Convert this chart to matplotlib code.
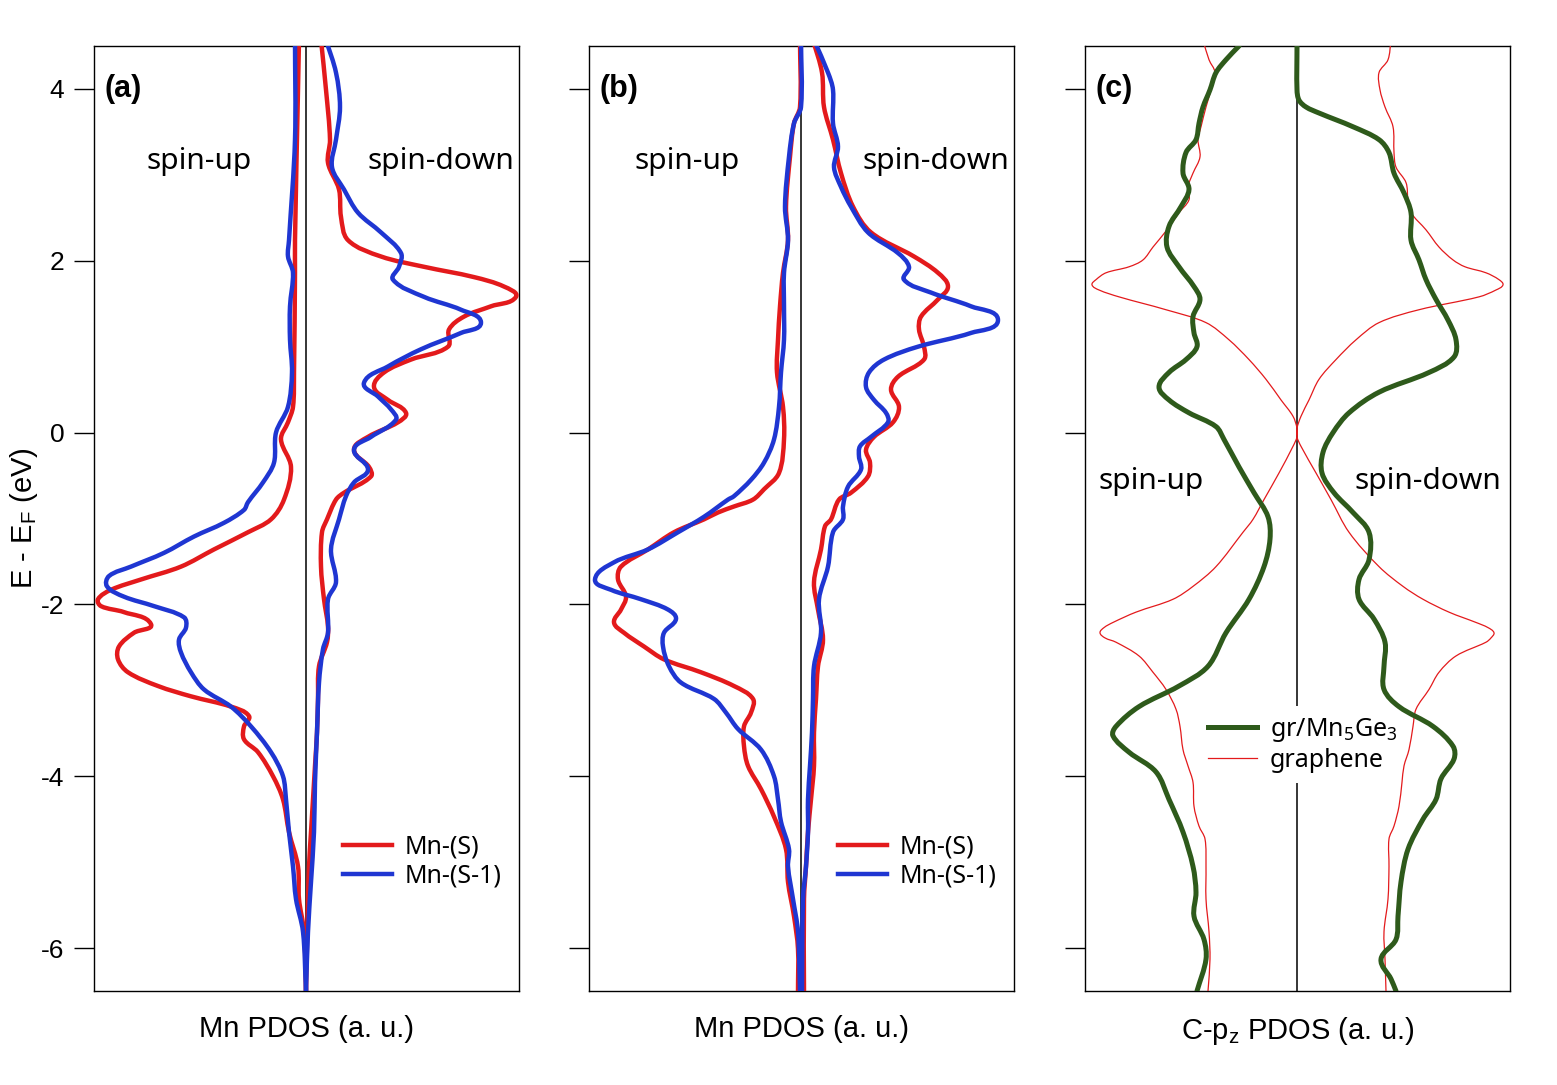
import numpy as np
import matplotlib
matplotlib.use('Agg')
import matplotlib.pyplot as plt
from matplotlib.path import Path
from matplotlib.patches import PathPatch
from matplotlib.lines import Line2D

plt.rcParams['font.family'] = ['Liberation Sans', 'DejaVu Sans']
plt.rcParams['mathtext.default'] = 'regular'
plt.rcParams['axes.unicode_minus'] = False

# (energy in eV, PDOS in a.u.) pairs
# panel (a)
a_up_S = [(4.57, -0.07), (3.99, -0.08), (2.24, -0.11), (1.86, -0.11), (0.70, -0.12), (0.30, -0.13),
          (0.12, -0.18), (-0.08, -0.25), (-0.40, -0.15), (-0.78, -0.22), (-1.01, -0.35), (-1.16, -0.58),
          (-1.36, -0.92), (-1.56, -1.25), (-1.71, -1.65), (-1.83, -1.95), (-1.94, -2.08), (-2.02, -2.05),
          (-2.09, -1.82), (-2.23, -1.55), (-2.33, -1.72), (-2.49, -1.87), (-2.64, -1.88), (-2.79, -1.78),
          (-2.95, -1.48), (-3.07, -1.15), (-3.19, -0.75), (-3.30, -0.57), (-3.42, -0.62), (-3.57, -0.62),
          (-3.72, -0.48), (-4.00, -0.33), (-4.27, -0.23), (-4.65, -0.17), (-5.05, -0.08), (-5.43, -0.07),
          (-5.81, -0.02), (-6.50, 0.0)]
a_up_S1 = [(4.57, -0.11), (3.41, -0.11), (2.24, -0.17), (2.05, -0.18), (1.86, -0.13), (1.47, -0.16),
           (1.08, -0.16), (0.70, -0.14), (0.30, -0.18), (0.00, -0.30), (-0.35, -0.32), (-0.58, -0.43),
           (-0.81, -0.58), (-0.90, -0.62), (-1.05, -0.82), (-1.21, -1.12), (-1.40, -1.42), (-1.56, -1.75),
           (-1.67, -1.97), (-1.79, -1.99), (-1.91, -1.82), (-2.02, -1.52), (-2.15, -1.22), (-2.27, -1.20),
           (-2.41, -1.27), (-2.56, -1.25), (-2.79, -1.15), (-2.99, -1.02), (-3.19, -0.75), (-3.42, -0.55),
           (-3.72, -0.35), (-4.00, -0.23), (-4.27, -0.20), (-4.65, -0.17), (-5.05, -0.13), (-5.43, -0.10),
           (-5.81, -0.03), (-6.50, 0.0)]
a_dn_S = [(4.57, 0.15), (3.99, 0.20), (3.41, 0.24), (3.14, 0.22), (2.83, 0.33), (2.51, 0.35), (2.24, 0.42),
          (2.05, 0.75), (1.93, 1.18), (1.81, 1.68), (1.70, 1.98), (1.58, 2.10), (1.47, 1.85), (1.35, 1.58),
          (1.20, 1.43), (1.00, 1.42), (0.85, 1.05), (0.70, 0.78), (0.53, 0.68), (0.38, 0.82), (0.23, 1.00),
          (0.12, 0.92), (-0.05, 0.62), (-0.20, 0.48), (-0.40, 0.63), (-0.51, 0.65), (-0.70, 0.38),
          (-0.78, 0.30), (-1.01, 0.21), (-1.16, 0.16), (-1.56, 0.15), (-1.94, 0.18), (-2.26, 0.22),
          (-2.44, 0.21), (-2.72, 0.13), (-3.10, 0.12), (-3.49, 0.11), (-3.88, 0.09), (-4.27, 0.07),
          (-4.65, 0.05), (-5.05, 0.03), (-5.43, 0.02), (-6.50, 0.0)]
a_dn_S1 = [(4.57, 0.20), (4.19, 0.30), (3.79, 0.34), (3.41, 0.30), (3.09, 0.26), (2.83, 0.38), (2.56, 0.52),
           (2.33, 0.75), (2.09, 0.95), (1.93, 0.93), (1.78, 0.87), (1.58, 1.18), (1.43, 1.55), (1.28, 1.75),
           (1.16, 1.55), (0.97, 1.15), (0.77, 0.82), (0.58, 0.58), (0.42, 0.72), (0.27, 0.85), (0.15, 0.90),
           (-0.05, 0.65), (-0.20, 0.48), (-0.43, 0.62), (-0.58, 0.48), (-0.74, 0.40), (-1.01, 0.33),
           (-1.36, 0.25), (-1.74, 0.30), (-1.94, 0.22), (-2.33, 0.22), (-2.52, 0.17), (-2.91, 0.13),
           (-3.49, 0.11), (-4.07, 0.09), (-4.65, 0.08), (-5.23, 0.05), (-5.81, 0.02), (-6.50, 0.0)]

# panel (b)
b_up_S = [(4.57, -0.01), (3.79, -0.01), (3.60, -0.07), (3.21, -0.11), (2.63, -0.15), (2.24, -0.13),
          (1.86, -0.18), (1.47, -0.21), (1.08, -0.23), (0.70, -0.24), (0.30, -0.18), (-0.08, -0.17),
          (-0.47, -0.22), (-0.66, -0.37), (-0.78, -0.48), (-0.86, -0.67), (-0.93, -0.83), (-1.01, -0.97),
          (-1.16, -1.27), (-1.36, -1.53), (-1.56, -1.80), (-1.71, -1.83), (-1.91, -1.75), (-2.06, -1.80),
          (-2.21, -1.87), (-2.33, -1.77), (-2.49, -1.57), (-2.64, -1.37), (-2.79, -1.00), (-2.95, -0.67),
          (-3.10, -0.48), (-3.26, -0.50), (-3.42, -0.57), (-3.65, -0.57), (-3.88, -0.53), (-4.15, -0.40),
          (-4.47, -0.27), (-4.85, -0.15), (-5.23, -0.13), (-5.63, -0.07), (-6.01, -0.03), (-6.50, -0.03)]
b_up_S1 = [(4.57, 0.0), (3.79, 0.0), (3.60, -0.07), (3.21, -0.12), (2.63, -0.16), (2.24, -0.13),
           (1.86, -0.17), (1.47, -0.17), (1.08, -0.17), (0.70, -0.20), (0.30, -0.22), (-0.08, -0.27),
           (-0.35, -0.37), (-0.55, -0.50), (-0.74, -0.67), (-0.78, -0.73), (-0.98, -0.97), (-1.16, -1.23),
           (-1.36, -1.53), (-1.51, -1.87), (-1.71, -2.06), (-1.83, -1.90), (-1.94, -1.60), (-2.06, -1.33),
           (-2.17, -1.25), (-2.33, -1.37), (-2.49, -1.38), (-2.72, -1.32), (-2.91, -1.20), (-3.10, -0.87),
           (-3.26, -0.75), (-3.45, -0.63), (-3.69, -0.40), (-4.00, -0.27), (-4.27, -0.23), (-4.53, -0.20),
           (-4.85, -0.12), (-5.05, -0.13), (-5.43, -0.08), (-5.81, -0.03), (-6.50, -0.01)]
b_dn_S = [(4.57, 0.12), (4.19, 0.21), (3.79, 0.23), (3.41, 0.32), (3.02, 0.40), (2.63, 0.52), (2.33, 0.70),
          (2.05, 1.13), (1.86, 1.37), (1.70, 1.47), (1.55, 1.37), (1.35, 1.20), (1.20, 1.18), (1.00, 1.23),
          (0.85, 1.23), (0.65, 0.97), (0.50, 0.90), (0.30, 0.98), (0.12, 0.92), (-0.05, 0.73), (-0.20, 0.65),
          (-0.35, 0.69), (-0.51, 0.67), (-0.70, 0.50), (-0.78, 0.38), (-1.01, 0.30), (-1.09, 0.24),
          (-1.36, 0.20), (-1.74, 0.13), (-2.06, 0.17), (-2.41, 0.22), (-2.72, 0.17), (-3.10, 0.15),
          (-3.49, 0.13), (-3.88, 0.13), (-4.27, 0.10), (-4.65, 0.07), (-5.05, 0.05), (-5.43, 0.03),
          (-6.50, 0.03)]
b_dn_S1 = [(4.57, 0.13), (4.19, 0.27), (3.99, 0.32), (3.60, 0.32), (3.33, 0.37), (3.09, 0.33), (2.86, 0.40),
           (2.63, 0.50), (2.33, 0.67), (2.09, 0.97), (1.93, 1.08), (1.78, 1.03), (1.63, 1.30), (1.47, 1.70),
           (1.31, 1.97), (1.16, 1.70), (1.00, 1.17), (0.85, 0.83), (0.70, 0.68), (0.53, 0.65), (0.38, 0.73),
           (0.23, 0.85), (0.12, 0.87), (-0.05, 0.70), (-0.16, 0.59), (-0.28, 0.58), (-0.43, 0.60),
           (-0.63, 0.47), (-0.86, 0.42), (-1.01, 0.42), (-1.16, 0.32), (-1.56, 0.27), (-1.94, 0.18),
           (-2.33, 0.20), (-2.72, 0.13), (-3.10, 0.12), (-3.49, 0.11), (-3.88, 0.09), (-4.27, 0.07),
           (-4.65, 0.07), (-5.05, 0.05), (-5.43, 0.02), (-6.50, 0.01)]

# panel (c)
c_up_hyb = [(4.50, -0.58), (4.34, -0.71), (4.19, -0.81), (3.99, -0.87), (3.79, -0.94), (3.60, -0.98),
            (3.41, -1.01), (3.26, -1.11), (3.02, -1.14), (2.83, -1.08), (2.63, -1.16), (2.40, -1.28),
            (2.16, -1.30), (1.93, -1.18), (1.70, -1.03), (1.55, -0.97), (1.35, -1.04), (1.16, -1.03),
            (1.00, -1.00), (0.85, -1.11), (0.70, -1.28), (0.53, -1.38), (0.38, -1.28), (0.23, -1.08),
            (0.07, -0.81), (-0.08, -0.73), (-0.40, -0.58), (-0.70, -0.43), (-0.98, -0.29), (-1.24, -0.27),
            (-1.56, -0.33), (-1.94, -0.48), (-2.33, -0.71), (-2.72, -0.89), (-2.95, -1.18), (-3.19, -1.58),
            (-3.42, -1.81), (-3.53, -1.84), (-3.72, -1.68), (-3.95, -1.41), (-4.27, -1.28), (-4.65, -1.14),
            (-5.05, -1.04), (-5.35, -1.01), (-5.63, -1.03), (-5.90, -0.93), (-6.13, -0.91), (-6.50, -1.00)]
c_dn_hyb = [(4.50, 0.0), (3.99, 0.0), (3.87, 0.02), (3.79, 0.09), (3.72, 0.22), (3.56, 0.56), (3.41, 0.82),
            (3.26, 0.92), (3.02, 0.97), (2.79, 1.07), (2.56, 1.14), (2.24, 1.14), (2.01, 1.22), (1.78, 1.29),
            (1.55, 1.39), (1.31, 1.51), (1.08, 1.59), (0.88, 1.57), (0.70, 1.32), (0.47, 0.82), (0.23, 0.52),
            (0.00, 0.36), (-0.23, 0.26), (-0.47, 0.25), (-0.70, 0.37), (-0.93, 0.56), (-1.16, 0.72),
            (-1.48, 0.72), (-1.71, 0.62), (-1.94, 0.62), (-2.17, 0.77), (-2.44, 0.88), (-2.72, 0.87),
            (-2.99, 0.87), (-3.19, 1.02), (-3.42, 1.36), (-3.65, 1.56), (-3.80, 1.57), (-4.03, 1.44),
            (-4.27, 1.39), (-4.50, 1.26), (-4.85, 1.11), (-5.23, 1.04), (-5.63, 1.01), (-5.90, 0.99),
            (-6.13, 0.84), (-6.36, 0.94), (-6.50, 0.99)]
c_up_gr = [(4.57, -0.94), (4.34, -0.88), (4.19, -0.82), (3.99, -0.86), (3.79, -0.91), (3.56, -0.96),
           (3.41, -0.99), (3.21, -0.97), (3.02, -1.04), (2.86, -1.09), (2.71, -1.08), (2.56, -1.18),
           (2.36, -1.30), (2.16, -1.44), (2.01, -1.54), (1.93, -1.68), (1.86, -1.91), (1.78, -2.01),
           (1.72, -2.05), (1.66, -1.98), (1.58, -1.78), (1.43, -1.31), (1.28, -0.91), (1.08, -0.68),
           (0.85, -0.48), (0.62, -0.31), (0.38, -0.16), (0.19, -0.04), (0.05, 0.0), (-0.05, 0.0),
           (-0.16, -0.04), (-0.47, -0.18), (-0.78, -0.33), (-1.01, -0.44), (-1.16, -0.54), (-1.56, -0.81),
           (-1.79, -1.04), (-1.94, -1.24), (-2.09, -1.61), (-2.21, -1.84), (-2.27, -1.93), (-2.33, -1.97),
           (-2.39, -1.92), (-2.44, -1.81), (-2.60, -1.58), (-2.79, -1.44), (-2.99, -1.31), (-3.22, -1.21),
           (-3.42, -1.17), (-3.69, -1.14), (-3.88, -1.09), (-4.07, -1.04), (-4.35, -1.03), (-4.58, -0.98),
           (-4.73, -0.92), (-5.05, -0.91), (-5.43, -0.91), (-5.81, -0.88), (-6.13, -0.87), (-6.50, -0.89)]
c_dn_gr = [(4.57, 0.94), (4.34, 0.91), (4.19, 0.82), (3.99, 0.83), (3.79, 0.88), (3.56, 0.96), (3.26, 0.97),
           (3.09, 0.99), (2.91, 1.09), (2.71, 1.11), (2.56, 1.14), (2.36, 1.29), (2.16, 1.42), (2.01, 1.56),
           (1.93, 1.68), (1.86, 1.89), (1.78, 2.02), (1.72, 2.06), (1.66, 1.99), (1.58, 1.82), (1.43, 1.22),
           (1.28, 0.82), (1.08, 0.59), (0.85, 0.39), (0.62, 0.22), (0.38, 0.12), (0.19, 0.04), (0.05, 0.0),
           (-0.05, 0.0), (-0.16, 0.04), (-0.47, 0.19), (-0.78, 0.34), (-1.16, 0.52), (-1.56, 0.82),
           (-1.79, 1.06), (-1.94, 1.26), (-2.09, 1.52), (-2.21, 1.79), (-2.27, 1.91), (-2.33, 1.97),
           (-2.39, 1.94), (-2.44, 1.89), (-2.60, 1.59), (-2.79, 1.42), (-2.99, 1.32), (-3.22, 1.19),
           (-3.42, 1.16), (-3.69, 1.12), (-3.88, 1.07), (-4.07, 1.05), (-4.35, 1.02), (-4.58, 0.97),
           (-4.73, 0.92), (-5.05, 0.92), (-5.43, 0.91), (-5.81, 0.87), (-6.13, 0.88), (-6.50, 0.89)]

y_ticks = [-6, -4, -2, 0, 2, 4]
panel_tags = ['(a)', '(b)', '(c)']
x_titles = ['Mn PDOS (a. u.)', 'Mn PDOS (a. u.)', 'C-p$_z$ PDOS (a. u.)']

RED = '#e31a1c'
BLUE = '#1f36d2'
GREEN = '#2e5a1b'
SANS2 = ['Noto Sans', 'DejaVu Sans']


def smooth_path(pairs):
    # smooth line shape (bezier) through the read points, like a 'spline' line style
    e, v = zip(*pairs)
    sx, sy = 100.0, 86.0  # rough px per unit, so tangents are isotropic on screen
    P = np.column_stack([np.array(v) * sx, np.array(e) * sy])
    n = len(P)
    tan = np.zeros_like(P)
    for i in range(n):
        d = P[min(i + 1, n - 1)] - P[max(i - 1, 0)]
        tan[i] = d / np.hypot(*d)
    verts = [P[0]]
    codes = [Path.MOVETO]
    for i in range(n - 1):
        L = np.hypot(*(P[i + 1] - P[i])) / 3.0
        verts += [P[i] + tan[i] * L, P[i + 1] - tan[i + 1] * L, P[i + 1]]
        codes += [Path.CURVE4] * 3
    verts = np.array(verts) / [sx, sy]
    return Path(verts, codes)


def draw(ax, pairs, color, lw, zorder):
    patch = PathPatch(smooth_path(pairs), fill=False, edgecolor=color, lw=lw,
                      joinstyle='round', capstyle='round', zorder=zorder)
    ax.add_patch(patch)


fig = plt.figure(figsize=(15.57, 10.85), dpi=100)
W, H = 1557.0, 1085.0
lefts = [94, 589, 1085]
axes = []
for i, l in enumerate(lefts):
    ax = fig.add_axes([l / W, (H - 991) / H, 425 / W, 945 / H])
    ax.set_xlim(-2.12, 2.13)
    ax.set_ylim(-6.5, 4.5)
    ax.set_yticks(y_ticks)
    ax.set_xticks([])
    ax.tick_params(axis='y', direction='out', length=14.5, width=1.0, labelsize=19, pad=7,
                   labelleft=(i == 0))
    for s in ax.spines.values():
        s.set_linewidth(1.0)
    ax.axvline(0, color='black', lw=1.1, zorder=1)
    ax.set_xlabel(x_titles[i], fontsize=21, labelpad=17)
    ax.text(0.024, 0.955, panel_tags[i], transform=ax.transAxes, fontsize=22,
            fontweight='bold', ha='left', va='center')
    axes.append(ax)

axes[0].set_ylabel('E - E$_F$ (eV)', fontsize=21)
axes[0].yaxis.set_label_coords(-0.127, 0.5)

# Mn panels
for ax, up_S, up_S1, dn_S, dn_S1, lx in [(axes[0], a_up_S, a_up_S1, a_dn_S, a_dn_S1, 0.533),
                                         (axes[1], b_up_S, b_up_S1, b_dn_S, b_dn_S1, 0.532)]:
    draw(ax, up_S, RED, 3.2, 3)
    draw(ax, dn_S, RED, 3.2, 3)
    draw(ax, up_S1, BLUE, 3.2, 4)
    draw(ax, dn_S1, BLUE, 3.2, 4)
    handles = [Line2D([], [], color=RED, lw=3.2), Line2D([], [], color=BLUE, lw=3.2)]
    ax.legend(handles, ['Mn-(S)', 'Mn-(S-1)'], loc='center left', bbox_to_anchor=(lx, 0.137),
              frameon=False, prop={'family': SANS2, 'size': 18}, handlelength=1.96,
              handletextpad=0.52, labelspacing=0.16, borderpad=0.4)

axes[0].text(-1.07, 3.15, 'spin-up', fontsize=21.5, family=SANS2, ha='center', va='center')
axes[0].text(1.35, 3.15, 'spin-down', fontsize=21.5, family=SANS2, ha='center', va='center')
axes[1].text(-1.14, 3.15, 'spin-up', fontsize=21.5, family=SANS2, ha='center', va='center')
axes[1].text(1.35, 3.15, 'spin-down', fontsize=21.5, family=SANS2, ha='center', va='center')

# C-pz panel
ax = axes[2]
draw(ax, c_up_gr, RED, 0.9, 3)
draw(ax, c_dn_gr, RED, 0.9, 3)
draw(ax, c_up_hyb, GREEN, 3.6, 4)
draw(ax, c_dn_hyb, GREEN, 3.6, 4)
handles = [Line2D([], [], color=GREEN, lw=3.6), Line2D([], [], color=RED, lw=0.9)]
leg = ax.legend(handles, ['gr/Mn$_5$Ge$_3$', 'graphene'], loc='center left',
                bbox_to_anchor=(0.236, 0.261), frameon=True, facecolor='white',
                edgecolor='none', framealpha=1.0, fancybox=False,
                prop={'family': SANS2, 'size': 18}, handlelength=1.96, handletextpad=0.52,
                labelspacing=0.16, borderpad=0.4)
leg.set_zorder(2)  # hides the centre line but sits under the curves
ax.text(-1.46, -0.57, 'spin-up', fontsize=21.5, family=SANS2, ha='center', va='center')
ax.text(1.31, -0.57, 'spin-down', fontsize=21.5, family=SANS2, ha='center', va='center')

fig.savefig('out.png', dpi=100)
